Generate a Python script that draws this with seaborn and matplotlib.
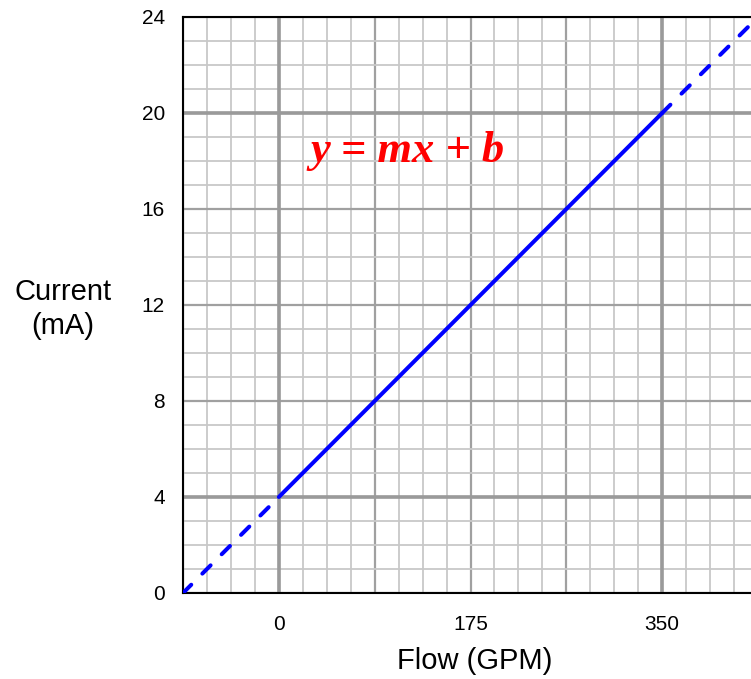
"""Flow transmitter calibration line: current (mA) vs flow (GPM)."""

import matplotlib

matplotlib.use("Agg")

import matplotlib.pyplot as plt
import numpy as np
import pandas as pd
import seaborn as sns
from matplotlib.ticker import FixedLocator, MultipleLocator

# range points
flow_low = [-87.5, 0.0]
current_low = [0.0, 4.0]
flow_range = [0.0, 350.0]
current_range = [4.0, 20.0]
flow_high = [350.0, 437.5]
current_high = [20.0, 24.0]

x_ticks = [-87.5, 0.0, 87.5, 175.0, 262.5, 350.0, 437.5]
x_tick_labels = ["", "0", "", "175", "", "350", ""]
y_ticks = [0, 4, 8, 12, 16, 20, 24]
range_flow_marks = [0.0, 350.0]
range_current_marks = [4.0, 20.0]

sns.set_theme(style="white")
plt.rcParams["font.family"] = ["Liberation Sans", "DejaVu Sans"]

fig = plt.figure(figsize=(7.51, 6.79), dpi=100)
ax = fig.add_axes([183 / 751, 1 - 593 / 679, 575 / 751, 576 / 679])

ax.set_xlim(-87.5, 437.5)
ax.set_ylim(0, 24)

# grid: light minor, medium major, heavy at the 0-350 / 4-20 range
ax.xaxis.set_major_locator(FixedLocator(x_ticks))
ax.xaxis.set_minor_locator(MultipleLocator(87.5 / 4))
ax.yaxis.set_major_locator(FixedLocator(y_ticks))
ax.yaxis.set_minor_locator(MultipleLocator(1))
ax.grid(which="minor", color="#c8c8c8", linewidth=1.3, zorder=0)
ax.grid(which="major", color="#a0a0a0", linewidth=1.6, zorder=0)
for xv in range_flow_marks:
    ax.axvline(xv, color="#9a9a9a", linewidth=2.6, zorder=1)
for yv in range_current_marks:
    ax.axhline(yv, color="#9a9a9a", linewidth=2.6, zorder=1)
ax.set_axisbelow(True)

low = pd.DataFrame({"flow": flow_low, "current": current_low})
mid = pd.DataFrame({"flow": flow_range, "current": current_range})
high = pd.DataFrame({"flow": flow_high, "current": current_high})

sns.lineplot(data=mid, x="flow", y="current", ax=ax, color="#0000ff",
             linewidth=2.9, solid_capstyle="round", zorder=3)
for seg in (low, high):
    sns.lineplot(data=seg, x="flow", y="current", ax=ax, color="#0000ff",
                 linewidth=2.9, dashes=(2.9, 3.9), dash_capstyle="round",
                 zorder=3)

ax.text(29, 18.4, "y = mx + b", color="#ff0000", fontsize=32,
        fontweight="bold", fontstyle="italic",
        family=["Liberation Serif", "DejaVu Serif"], ha="left", va="center",
        zorder=4)

ax.set_xticklabels(x_tick_labels)
ax.tick_params(axis="both", which="major", direction="out", length=6,
               width=1.2, color="black", labelsize=15, labelcolor="black")
ax.tick_params(axis="x", which="major", pad=10)
ax.tick_params(axis="y", which="major", pad=7)
ax.tick_params(which="minor", length=0)

for side in ("left", "bottom", "top", "right"):
    ax.spines[side].set_visible(True)
    ax.spines[side].set_color("black")
    ax.spines[side].set_linewidth(1.5)

ax.set_xlabel("Flow (GPM)", fontsize=21, color="black", va="center")
ax.xaxis.set_label_coords((475 - 183) / 575, (593 - 661) / 576)
ax.set_ylabel("Current\n(mA)", fontsize=21, color="black", rotation=0,
              ha="center", va="center", linespacing=1.3)
ax.yaxis.set_label_coords((63 - 183) / 575, (593 - 309) / 576)

fig.savefig("out.png", dpi=100)
